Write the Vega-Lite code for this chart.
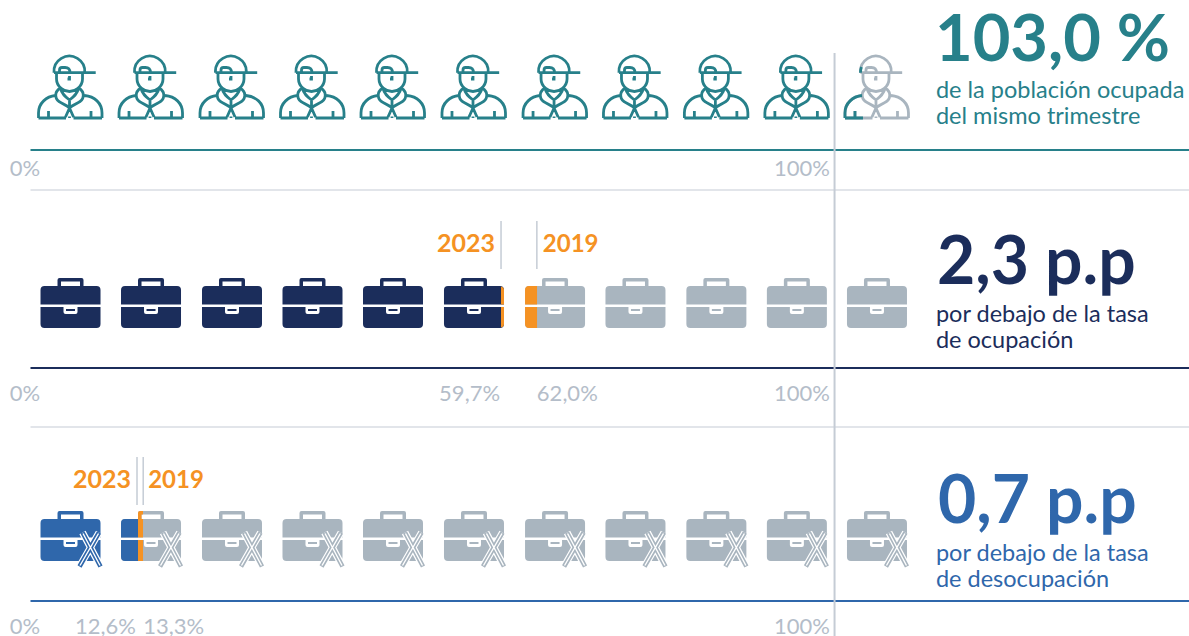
{"$schema":"https://vega.github.io/schema/vega-lite/v6.json","width":1189,"height":636,"padding":0,"autosize":"none","background":"white","view":{"stroke":null},
"datasets":{
"lineas":[{"fila":1,"x":0,"x2":143.91,"serie":"poblacion"},{"fila":2,"x":0,"x2":143.91,"serie":"ocupacion"},{"fila":3,"x":0,"x2":143.91,"serie":"desocupacion"}],
"separadores":[{"fila":1.5,"x":0,"x2":143.91,"serie":"separador"},{"fila":2.5,"x":0,"x2":143.91,"serie":"separador"}],
"vertical":[{"fila":0.5,"fila2":3.5,"x":99.88,"serie":"separador"}],
"iconos":[
{"fila":1,"x":4.97,"serie":"poblacion"},{"fila":1,"x":14.97,"serie":"poblacion"},{"fila":1,"x":25.03,"serie":"poblacion"},{"fila":1,"x":35.03,"serie":"poblacion"},{"fila":1,"x":45.03,"serie":"poblacion"},{"fila":1,"x":55.09,"serie":"poblacion"},{"fila":1,"x":65.16,"serie":"poblacion"},{"fila":1,"x":75.15,"serie":"poblacion"},{"fila":1,"x":85.2,"serie":"poblacion"},{"fila":1,"x":95.2,"serie":"poblacion"},{"fila":1,"x":105.15,"serie":"resto"},
{"fila":2,"x":4.97,"serie":"ocupacion"},{"fila":2,"x":14.97,"serie":"ocupacion"},{"fila":2,"x":25.03,"serie":"ocupacion"},{"fila":2,"x":35.03,"serie":"ocupacion"},{"fila":2,"x":45.03,"serie":"ocupacion"},{"fila":2,"x":55.09,"serie":"ocupacion"},{"fila":2,"x":65.16,"serie":"resto"},{"fila":2,"x":75.15,"serie":"resto"},{"fila":2,"x":85.2,"serie":"resto"},{"fila":2,"x":95.2,"serie":"resto"},{"fila":2,"x":105.15,"serie":"resto"},
{"fila":3,"x":4.97,"serie":"desocupacion"},{"fila":3,"x":14.97,"serie":"resto"},{"fila":3,"x":25.03,"serie":"resto"},{"fila":3,"x":35.03,"serie":"resto"},{"fila":3,"x":45.03,"serie":"resto"},{"fila":3,"x":55.09,"serie":"resto"},{"fila":3,"x":65.16,"serie":"resto"},{"fila":3,"x":75.15,"serie":"resto"},{"fila":3,"x":85.2,"serie":"resto"},{"fila":3,"x":95.2,"serie":"resto"},{"fila":3,"x":105.15,"serie":"resto"}],
"escala":[{"fila":1,"x":1.2,"texto":"0%","serie":"etiqueta"},{"fila":1,"x":99.3,"texto":"100%","serie":"etiqueta"},{"fila":2,"x":1.2,"texto":"0%","serie":"etiqueta"},{"fila":2,"x":99.3,"texto":"100%","serie":"etiqueta"},{"fila":3,"x":1.2,"texto":"0%","serie":"etiqueta"},{"fila":3,"x":99.3,"texto":"100%","serie":"etiqueta"}],
"comparacion":[{"fila":2,"anio":"2023","valor":"59,7%","x":58.45,"serie":"brecha","serieValor":"etiqueta","serieMarca":"separador"},{"fila":2,"anio":"2019","valor":"62,0%","x":62.9,"serie":"brecha","serieValor":"etiqueta","serieMarca":"separador"},{"fila":3,"anio":"2023","valor":"12,6%","x":13.23,"serie":"brecha","serieValor":"etiqueta","serieMarca":"separador"},{"fila":3,"anio":"2019","valor":"13,3%","x":14,"serie":"brecha","serieValor":"etiqueta","serieMarca":"separador"}],
"resumen":[{"fila":1,"x":112.6,"grande":"103,0 %","texto":"de la población ocupada\ndel mismo trimestre","serie":"poblacion"},{"fila":2,"x":112.6,"grande":"2,3 p.p","texto":"por debajo de la tasa\nde ocupación","serie":"ocupacion"},{"fila":3,"x":112.6,"grande":"0,7 p.p","texto":"por debajo de la tasa\nde desocupación","serie":"desocupacion"}]
},
"data":{"name":"iconos"},
"encoding":{
"x":{"field":"x","type":"quantitative","axis":null,"scale":{"domain":[-3.789,143.91],"range":[0,1189],"nice":false,"zero":false}},
"y":{"field":"fila","type":"quantitative","axis":null,"scale":{"domain":[0.5,1,1.5,2,2.5,3,3.5],"range":[53,150,190,368,427,601,636],"nice":false,"zero":false}},
"color":{"field":"serie","type":"nominal","legend":null,"scale":{"domain":["poblacion","ocupacion","desocupacion","resto","brecha","separador","etiqueta"],"range":["#27808a","#1b2d5b","#2f67ab","#a9b5bf","#f59223","#c5ccd5","#b4bdc9"]}}
},
"layer":[
{"data":{"name":"separadores"},"mark":{"type":"rule","strokeWidth":1.2},"encoding":{"x2":{"field":"x2"}}},
{"data":{"name":"lineas"},"mark":{"type":"rule","strokeWidth":2},"encoding":{"x2":{"field":"x2"}}},
{"data":{"name":"vertical"},"mark":{"type":"rule","strokeWidth":2},"encoding":{"y2":{"field":"fila2"}}},
{"transform":[{"filter":"datum.fila==1"}],"mark":{"type":"point","yOffset":-63,"size":4,"filled":false,"opacity":1,"strokeWidth":2.8,"shape":"M-16.5 -14.3 A15.4 15.4 0 1 1 14.2 -14.3 M-16.5 -14.3 L25.2 -14.3 M-14 -14.3 L-14 -8 C-14 0 -6 4.5 -1 4.5 C4 4.5 12 0 12 -8 L12 -14.3 M-11 -14.3 L-11 -17 Q-11 -19.5 -8.5 -19.5 L-5.5 -19.5 Q-0.5 -19.5 -0.5 -14.3 M-1 -11 L-1 -8 L-3 -8 M-10 1 C-17 5 -16 13 -9 16 C-6 17.5 -3 19 -1 21 C1 19 4 17.5 7 16 C14 13 15 5 8 1 M-10 1 C-9 7 -5 10 -1 13 C3 10 7 7 8 1 M-1 13 L-1 21 L-5 30 M-1 21 L3 30 M-32 31 L-32 26 C-32 16 -24 9.5 -15 8.5 M31.5 31 L31.5 26 C31.5 16 24 9.5 14 8.5 M-32 31 L-4.5 31 M3 31 L31.5 31 M-22 24 L-22 31 M20.5 24 L20.5 31 M-1 29.5 L-1 31"}},
{"transform":[{"filter":"datum.fila==1 && datum.x>100"}],"mark":{"type":"point","yOffset":-63,"size":4,"filled":false,"opacity":1,"strokeWidth":2.8,"shape":"M-32 31 L-32 26 C-32 16 -24 9.5 -15 8.5 M-32 31 L-14 31 M-22 24 L-22 31 M-16.5 -14.3 A15.4 15.4 0 0 1 -15.5 -20"},"encoding":{"color":{"value":"#27808a"}}},
{"transform":[{"filter":"datum.fila>=2"}],"mark":{"type":"point","yOffset":-65,"size":4,"filled":true,"opacity":1,"strokeWidth":0,"shape":"M-30 1.5 L-30 -13 Q-30 -17 -26 -17 L26 -17 Q30 -17 30 -13 L30 1.5 Z M-30 4 L-7 4 L-7 9 Q-7 11 -5 11 L5 11 Q7 11 7 9 L7 4 L30 4 L30 21 Q30 25 26 25 L-26 25 Q-30 25 -30 21 Z M-4.5 6 L4.5 6 L4.5 8 L-4.5 8 Z M-13 -17 L-13 -23 Q-13 -25 -11 -25 L11 -25 Q13 -25 13 -23 L13 -17 L9.5 -17 L9.5 -21.5 L-9.5 -21.5 L-9.5 -17 Z"}},
{"transform":[{"filter":"datum.fila==2 && datum.x>55 && datum.x<56"}],"mark":{"type":"point","yOffset":-65,"size":4,"filled":true,"opacity":1,"strokeWidth":0,"shape":"M27 -16.5 Q30 -16 30 -13 L30 1.5 L27 1.5 Z M27 4 L30 4 L30 21 Q30 24 27 24.5 Z"},"encoding":{"color":{"value":"#f59223"}}},
{"transform":[{"filter":"datum.fila==2 && datum.x>65 && datum.x<66"}],"mark":{"type":"point","yOffset":-65,"size":4,"filled":true,"opacity":1,"strokeWidth":0,"shape":"M-30 1.5 L-30 -13 Q-30 -17 -26 -17 L-18 -17 L-18 1.5 Z M-30 4 L-18 4 L-18 25 L-26 25 Q-30 25 -30 21 Z"},"encoding":{"color":{"value":"#f59223"}}},
{"transform":[{"filter":"datum.fila==3 && datum.x>14 && datum.x<16"}],"mark":{"type":"point","yOffset":-65,"size":4,"filled":true,"opacity":1,"strokeWidth":0,"shape":"M-30 1.5 L-30 -13 Q-30 -17 -26 -17 L-13 -17 L-13 1.5 Z M-30 4 L-13 4 L-13 25 L-26 25 Q-30 25 -30 21 Z"},"encoding":{"color":{"value":"#2f67ab"}}},
{"transform":[{"filter":"datum.fila==3 && datum.x>14 && datum.x<16"}],"mark":{"type":"point","yOffset":-65,"size":4,"filled":true,"opacity":1,"strokeWidth":0,"shape":"M-13 -17 L-8 -17 L-8 1.5 L-13 1.5 Z M-13 4 L-8 4 L-8 25 L-13 25 Z M-13 -17 L-13 -23 Q-13 -25 -11 -25 L-8 -25 L-8 -21.5 L-9.5 -21.5 L-9.5 -17 Z"},"encoding":{"color":{"value":"#f59223"}}},
{"transform":[{"filter":"datum.fila==3"}],"mark":{"type":"point","yOffset":-65,"size":4,"filled":false,"opacity":1,"strokeWidth":7,"shape":"M12 -3.5 L30 30.5 M28.5 -3.5 L9 30.5"},"encoding":{"color":{"value":"white"}}},
{"transform":[{"filter":"datum.fila==3"}],"mark":{"type":"point","yOffset":-65,"size":4,"filled":false,"opacity":1,"strokeWidth":4.6,"shape":"M12 -3.5 L30 30.5 M28.5 -3.5 L9 30.5"}},
{"transform":[{"filter":"datum.fila==3"}],"mark":{"type":"point","yOffset":-65,"size":4,"filled":false,"opacity":1,"strokeWidth":1.4,"shape":"M12.5 -2.5 L29.5 29.5 M28 -2.5 L9.5 29.5"},"encoding":{"color":{"value":"white"}}},
{"data":{"name":"comparacion"},"transform":[{"filter":"datum.fila==2"}],"mark":{"type":"rule","strokeWidth":1.5,"yOffset":-147,"y2Offset":-99},"encoding":{"y2":{"field":"fila"},"color":{"field":"serieMarca","type":"nominal"}}},
{"data":{"name":"comparacion"},"transform":[{"filter":"datum.fila==3"}],"mark":{"type":"rule","strokeWidth":1.5,"yOffset":-144,"y2Offset":-96},"encoding":{"y2":{"field":"fila"},"color":{"field":"serieMarca","type":"nominal"}}},
{"data":{"name":"comparacion"},"transform":[{"filter":"datum.fila==2 && datum.anio=='2023'"}],"mark":{"type":"text","font":"Lato","fontWeight":"bold","fontSize":25,"align":"right","baseline":"alphabetic","dx":-6,"yOffset":-116},"encoding":{"text":{"field":"anio"}}},
{"data":{"name":"comparacion"},"transform":[{"filter":"datum.fila==2 && datum.anio=='2019'"}],"mark":{"type":"text","font":"Lato","fontWeight":"bold","fontSize":24,"align":"left","baseline":"alphabetic","dx":6,"yOffset":-116},"encoding":{"text":{"field":"anio"}}},
{"data":{"name":"comparacion"},"transform":[{"filter":"datum.fila==3 && datum.anio=='2023'"}],"mark":{"type":"text","font":"Lato","fontWeight":"bold","fontSize":25,"align":"right","baseline":"alphabetic","dx":-6,"yOffset":-113},"encoding":{"text":{"field":"anio"}}},
{"data":{"name":"comparacion"},"transform":[{"filter":"datum.fila==3 && datum.anio=='2019'"}],"mark":{"type":"text","font":"Lato","fontWeight":"bold","fontSize":24,"align":"left","baseline":"alphabetic","dx":5,"yOffset":-113},"encoding":{"text":{"field":"anio"}}},
{"data":{"name":"comparacion"},"transform":[{"filter":"datum.anio=='2023'"}],"mark":{"type":"text","font":"Lato","fontSize":22,"align":"right","baseline":"alphabetic","dx":-1,"yOffset":33},"encoding":{"text":{"field":"valor"},"color":{"field":"serieValor","type":"nominal"}}},
{"data":{"name":"comparacion"},"transform":[{"filter":"datum.anio=='2019'"}],"mark":{"type":"text","font":"Lato","fontSize":22,"align":"left","baseline":"alphabetic","yOffset":33},"encoding":{"text":{"field":"valor"},"color":{"field":"serieValor","type":"nominal"}}},
{"data":{"name":"escala"},"transform":[{"filter":"datum.fila==1"}],"mark":{"type":"text","font":"Lato","fontSize":22,"align":"right","baseline":"alphabetic","yOffset":26},"encoding":{"text":{"field":"texto"}}},
{"data":{"name":"escala"},"transform":[{"filter":"datum.fila>1"}],"mark":{"type":"text","font":"Lato","fontSize":22,"align":"right","baseline":"alphabetic","yOffset":33},"encoding":{"text":{"field":"texto"}}},
{"data":{"name":"resumen"},"transform":[{"filter":"datum.fila==1"}],"mark":{"type":"text","font":"Lato","fontWeight":"bold","fontSize":65,"align":"left","baseline":"alphabetic","dx":-2,"yOffset":-89},"encoding":{"text":{"field":"grande"}}},
{"data":{"name":"resumen"},"transform":[{"filter":"datum.fila==2"}],"mark":{"type":"text","font":"Lato","fontWeight":"bold","fontSize":66,"align":"left","baseline":"alphabetic","yOffset":-84},"encoding":{"text":{"field":"grande"}}},
{"data":{"name":"resumen"},"transform":[{"filter":"datum.fila==3"}],"mark":{"type":"text","font":"Lato","fontWeight":"bold","fontSize":66,"align":"left","baseline":"alphabetic","dx":1,"yOffset":-78},"encoding":{"text":{"field":"grande"}}},
{"data":{"name":"resumen"},"transform":[{"filter":"datum.fila==1"}],"mark":{"type":"text","font":"Lato","fontSize":23.5,"align":"left","baseline":"alphabetic","lineBreak":"\n","lineHeight":26,"dx":-1,"yOffset":-52},"encoding":{"text":{"field":"texto"}}},
{"data":{"name":"resumen"},"transform":[{"filter":"datum.fila==2"}],"mark":{"type":"text","font":"Lato","fontSize":23.5,"align":"left","baseline":"alphabetic","lineBreak":"\n","lineHeight":26,"dx":-1,"yOffset":-46},"encoding":{"text":{"field":"texto"}}},
{"data":{"name":"resumen"},"transform":[{"filter":"datum.fila==3"}],"mark":{"type":"text","font":"Lato","fontSize":23.5,"align":"left","baseline":"alphabetic","lineBreak":"\n","lineHeight":26,"dx":-1,"yOffset":-40},"encoding":{"text":{"field":"texto"}}}
]}
